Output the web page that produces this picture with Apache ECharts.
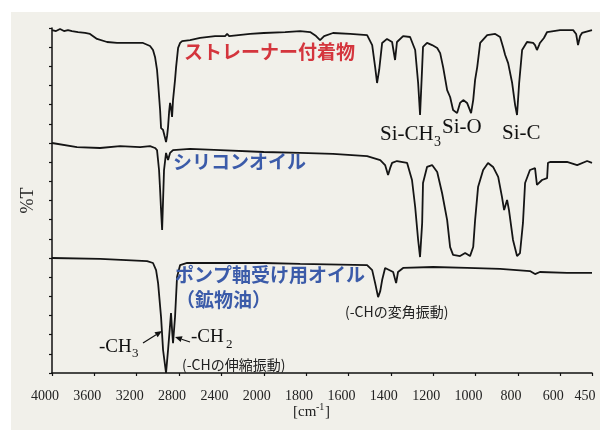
<!DOCTYPE html>
<html><head><meta charset="utf-8">
<script src="https://cdn.jsdelivr.net/npm/echarts@6/dist/echarts.min.js"></script>
<style>html,body{margin:0;padding:0;background:#fff}#c{width:600px;height:430px}</style>
</head><body><div id="c"></div>
<script>
// x tick labels (wavenumber, cm-1); scale changes at 2000 cm-1
const tickLabels = [4000,3600,3200,2800,2400,2000,1800,1600,1400,1200,1000,800,600,450];

// Top trace: ストレーナー付着物
const topWn = [4000,3962,3924,3887,3849,3811,3754,3688,3641,3575,3480,3386,3263,3140,3074,3046,3027,3008,2998,2979,2970,2951,2932,2923,2913,2904,2894,2885,2876,2866,2857,2838,2828,2809,2790,2771,2696,2601,2460,2365,2346,2327,2129,2000,1899,1828,1781,1753,1734,1715,1673,1592,1512,1488,1474,1465,1455,1441,1418,1394,1380,1371,1342,1309,1285,1271,1262,1252,1248,1229,1205,1181,1167,1153,1134,1120,1106,1087,1073,1058,1040,1021,1011,1002,992,978,945,907,884,870,860,846,827,813,804,794,780,757,728,719,710,700,696,677,662,601,539,525,516,506,497,450];
const topT = [5.89,5.84,5.95,5.84,5.89,5.84,5.79,5.74,5.69,5.43,5.27,5.22,5.22,5.22,5.06,4.85,4.49,3.81,3.13,1.72,0.78,0.68,0.26,0.05,0.37,0.83,1.62,2.09,1.83,1.36,2.24,3.29,3.96,4.96,5.22,5.32,5.37,5.48,5.58,5.58,5.69,5.58,5.69,5.74,5.79,5.84,5.79,5.58,5.37,5.58,5.74,5.69,5.63,5.11,3.96,3.13,3.81,5.22,5.43,5.27,4.33,5.27,5.58,5.53,4.85,3.13,1.46,3.96,5.01,5.22,5.11,4.96,4.69,3.96,2.76,2.40,1.72,1.56,2.09,2.24,2.09,1.56,2.24,3.29,3.96,5.22,5.63,5.69,5.53,5.01,4.59,4.17,3.13,1.98,1.46,3.13,4.85,5.27,5.22,5.11,4.85,5.11,5.22,5.48,5.79,5.89,5.89,5.69,5.11,5.58,5.74,5.89];

// Middle trace: シリコンオイル
const midWn = [4000,3764,3546,3357,3168,3074,3027,3008,2989,2979,2970,2960,2951,2942,2923,2904,2885,2857,2696,2412,2000,1828,1673,1512,1450,1427,1413,1403,1394,1371,1323,1300,1285,1271,1262,1252,1248,1229,1205,1181,1158,1134,1120,1106,1073,1049,1026,1011,1002,988,964,941,917,893,875,865,851,842,823,804,790,776,766,743,719,710,686,662,658,648,568,520,473,450];
const midT = [6.0,5.79,5.74,5.84,5.79,5.84,5.74,5.63,4.59,3.55,2.50,1.46,3.03,4.59,5.48,5.11,5.48,5.63,5.69,5.63,5.53,5.48,5.43,5.32,5.11,4.85,4.33,4.70,4.96,5.06,4.96,4.07,2.66,0.94,0.05,1.83,3.91,4.75,4.85,4.49,3.39,1.98,0.57,0.16,0.10,0.26,0.10,0.57,1.98,3.70,4.59,4.96,4.75,4.23,3.18,2.50,3.03,2.50,0.94,0.10,0.26,1.83,3.91,4.59,4.69,3.81,4.07,4.17,4.96,5.01,5.01,4.85,5.06,4.96];

// Bottom trace: ポンプ軸受け用オイル（鉱物油）
const botWn = [4000,3546,3102,3046,3017,2998,2970,2951,2923,2904,2885,2876,2866,2857,2838,2819,2790,2724,2000,1828,1512,1488,1474,1460,1450,1441,1427,1389,1375,1366,1342,1200,1040,884,743,719,696,568,450];
const botT = [6.0,5.95,5.84,5.74,5.37,4.69,2.92,1.20,0.0,1.20,2.50,3.13,2.24,1.56,2.92,5.01,5.63,5.74,5.74,5.69,5.63,5.37,4.69,3.96,4.27,4.85,5.48,5.27,4.69,5.27,5.48,5.53,5.48,5.43,5.32,5.16,5.27,5.22,5.22];

const traceOffsets = [12, 6, 0];

// piecewise wavenumber axis: 400 cm-1/unit above 2000, 200 cm-1/unit below
function U(w){ return w >= 2000 ? (4000 - w) / 400 : 5 + (2000 - w) / 200; }
function build(wn, t, off){ return wn.map((w, i) => [U(w), t[i] + off]); }

const tickU = tickLabels.map(U);
function labelFor(v){
  for (let i = 0; i < tickLabels.length; i++) if (Math.abs(tickU[i] - v) < 1e-6) return String(tickLabels[i]);
  return '';
}

const serif = 'Liberation Serif';
const cjk = '"Noto Sans CJK JP"';
function txt(x, y, text, font, fill, extra){
  return Object.assign({type:'text', x:x, y:y, silent:true, z:10,
    style:{text:text, font:font, fill:fill, verticalAlign:'middle', align:'left'}}, extra||{});
}
function arrow(x1,y1,x2,y2){
  const dx=x2-x1, dy=y2-y1, L=Math.hypot(dx,dy), ux=dx/L, uy=dy/L;
  const hl=7, hw=3, bx=x2-ux*hl, by=y2-uy*hl, px=-uy*hw, py=ux*hw;
  return [
    {type:'line', silent:true, z:10, shape:{x1:x1,y1:y1,x2:bx,y2:by}, style:{stroke:'#111', lineWidth:1.2}},
    {type:'polygon', silent:true, z:10, shape:{points:[[x2,y2],[bx+px,by+py],[bx-px,by-py]]}, style:{fill:'#111'}}
  ];
}

const lineStyle = {color:'#151515', width:1.8};
const chart = echarts.init(document.getElementById('c'), null, {renderer:'canvas'});
chart.setOption({
  animation:false,
  backgroundColor:'#ffffff',
  grid:{left:52, right:8, top:28, bottom:57},
  xAxis:{
    type:'value', min:0, max:U(450),
    axisLine:{show:true, lineStyle:{color:'#111', width:1.5}},
    axisTick:{show:true, customValues:tickU, length:3, lineStyle:{color:'#111', width:1.2}},
    axisLabel:{show:true, customValues:tickU, formatter:labelFor, fontFamily:serif, fontSize:14, color:'#222', margin:16, padding:[0,14,0,0]},
    splitLine:{show:false}
  },
  yAxis:{
    type:'value', min:0, max:18, interval:1,
    name:'%T', nameLocation:'middle', nameRotate:90, nameGap:15,
    nameTextStyle:{fontFamily:serif, fontSize:18, color:'#222'},
    axisLine:{show:true, lineStyle:{color:'#111', width:1.5}},
    axisTick:{show:true, length:3, lineStyle:{color:'#111', width:1.2}},
    axisLabel:{show:false},
    splitLine:{show:false}
  },
  series:[
    {type:'line', name:'ストレーナー付着物', data:build(topWn, topT, traceOffsets[0]), showSymbol:false, symbol:'none', lineStyle:lineStyle, clip:false},
    {type:'line', name:'シリコンオイル', data:build(midWn, midT, traceOffsets[1]), showSymbol:false, symbol:'none', lineStyle:lineStyle, clip:false},
    {type:'line', name:'ポンプ軸受け用オイル（鉱物油）', data:build(botWn, botT, traceOffsets[2]), showSymbol:false, symbol:'none', lineStyle:lineStyle, clip:false}
  ],
  graphic:[
    {type:'rect', silent:true, z:-100, shape:{x:11, y:12, width:589, height:418}, style:{fill:'#f1f0ea'}},
    txt(184, 52, 'ストレーナー付着物', 'bold 19px ' + cjk, '#d4353d'),
    txt(173, 162, 'シリコンオイル', 'bold 19px ' + cjk, '#3b5ba9'),
    txt(175, 275, 'ポンプ軸受け用オイル', 'bold 19px ' + cjk, '#3b5ba9'),
    txt(176, 300, '（鉱物油）', 'bold 19px ' + cjk, '#3b5ba9'),
    txt(380, 134, 'Si-CH', '21px ' + serif, '#111'),
    txt(434, 142, '3', '14px ' + serif, '#111'),
    txt(442, 127, 'Si-O', '21px ' + serif, '#111'),
    txt(502, 133, 'Si-C', '21px ' + serif, '#111'),
    txt(99, 347, '-CH', '19px ' + serif, '#111'),
    txt(132, 354, '3', '13px ' + serif, '#111'),
    txt(191, 337, '-CH', '19px ' + serif, '#111'),
    txt(226, 345, '2', '13px ' + serif, '#111'),
    txt(182, 365, '(-CHの伸縮振動)', '14px ' + cjk, '#222'),
    txt(345, 312, '(-CHの変角振動)', '14px ' + cjk, '#222'),
    txt(293, 412, '[cm', '15px ' + serif, '#222'),
    txt(316, 407, '-1', '10px ' + serif, '#222'),
    txt(325, 412, ']', '15px ' + serif, '#222')
  ].concat(arrow(143,343,162,331), arrow(190,342,175,337))
});
</script>
</body></html>
